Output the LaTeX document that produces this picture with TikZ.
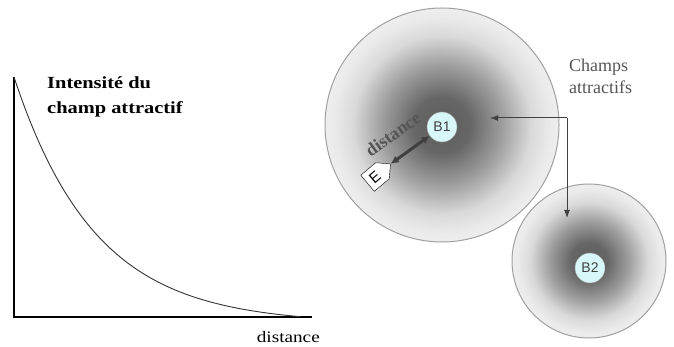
\documentclass[tikz,border=0pt]{standalone}
\usepackage{fontspec}
\setmainfont{Liberation Serif}
\setsansfont{Liberation Sans}
\usetikzlibrary{positioning, arrows.meta, shapes.symbols}
\definecolor{ink}{HTML}{404040}
\definecolor{rim}{HTML}{A0A0A0}
\definecolor{bcyan}{HTML}{D8F7F9}
\definecolor{txtgray}{HTML}{555555}
\pgfdeclareradialshading{field}{\pgfpoint{0bp}{0bp}}{%
  color(0bp)=(ink!85!white); color(6bp)=(ink!80!white);
  color(13bp)=(ink!50!white); color(19bp)=(ink!20!white);
  color(23bp)=(ink!11!white); color(25bp)=(ink!9!white);
  color(50bp)=(ink!9!white)}

\begin{document}
\begin{tikzpicture}[x=1pt, y=-1pt,
  fld/.style={circle, shading=field, draw=rim, line width=1pt, inner sep=0pt},
  base/.style={circle, draw=rim, fill=bcyan, inner sep=0pt, minimum size=30pt, font=\sffamily\fontsize{14}{14}\selectfont, text=ink},
  tag/.style={signal, signal to=east, draw=black, fill=white, inner sep=0pt, minimum width=30pt, minimum height=21pt, font=\sffamily\fontsize{15}{15}\selectfont},
  dist/.style={{Latex[length=8pt,width=8pt]}-{Latex[length=8pt,width=8pt]}, line width=3pt, ink},
  ar/.style={-{Latex[length=8pt,width=6pt]}, line width=1pt, ink},
  ax/.style={line width=1.8pt, black}]
\useasboundingbox (0,0) rectangle (674,347);

\draw[ax] (14,77) -- (14,317) -- (312,317);
\draw[line width=0.9pt, black!80] plot[domain=14:300, samples=90] (\x, {324-247*exp(-0.0123*(\x-14))});
\node[anchor=north west, align=left, inner sep=0pt, xscale=1.2, font=\bfseries\fontsize{17}{25}\selectfont] (title) at (47,76) {Intensit\'e du\\champ attractif};
\node[anchor=base east, inner sep=0pt, xscale=1.2, font=\fontsize{16}{16}\selectfont] (dlab) at (320,342) {distance};

\node[fld, minimum size=234pt] (F1) at (442,125) {};
\node[fld, minimum size=154pt] (F2) at (589,261) {};
\node[base] (B1) at (442,127) {B1};
\node[base] (B2) at (590,268) {B2};
\node[tag, rotate=40] (E) at (375,177) {E};

\draw[dist] (E.east) -- node[sloped, above=15pt, pos=0.4, inner sep=0pt, text=txtgray, font=\bfseries\fontsize{18}{18}\selectfont] {distance} (B1);

\node[anchor=base west, align=left, inner sep=0pt, text=txtgray, font=\fontsize{18}{22}\selectfont] (champs) at (569,94) {Champs\\attractifs};
\coordinate (turn) at (567,118);
\coordinate (in1) at (490,118);
\coordinate (in2) at (567,218);
\draw[ar] (turn) -- (in1);
\draw[ar] (turn) -- (in2);
\end{tikzpicture}
\end{document}
